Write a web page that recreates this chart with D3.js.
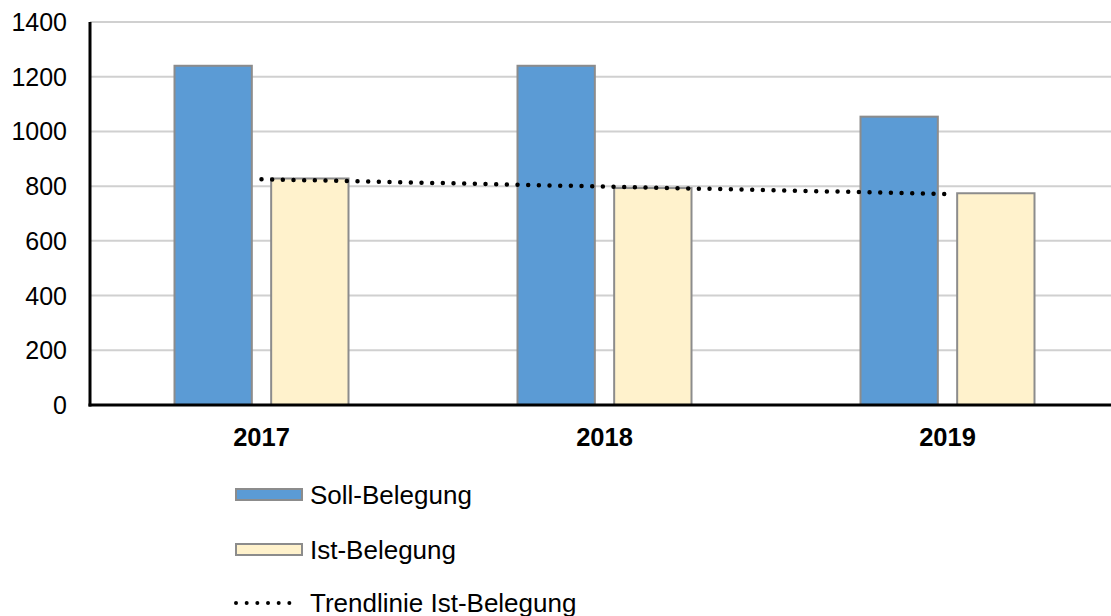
<!DOCTYPE html>
<html>
<head>
<meta charset="utf-8">
<script src="https://cdn.jsdelivr.net/npm/d3@7"></script>
<style>
  body { margin: 0; background: #fff; }
  svg { display: block; font-family: "Liberation Sans", Arial, sans-serif; }
</style>
</head>
<body>
<div id="chart"></div>
<script>
var years = ["2017", "2018", "2019"];
var seriesNames = ["Soll-Belegung", "Ist-Belegung"];
var soll = [1240, 1240, 1054];
var ist = [828, 793, 774];
var yTicks = [0, 200, 400, 600, 800, 1000, 1200, 1400];
var trendName = "Trendlinie Ist-Belegung";

var colors = ["#5B9BD5", "#FFF2CC"];
var width = 1111, height = 616;
var plotLeft = 90, plotTop = 22, plotRight = 1119, plotBottom = 405;

var svg = d3.select("#chart").append("svg")
  .attr("width", width)
  .attr("height", height);

var x0 = d3.scaleBand().domain(years).range([plotLeft, plotRight]).padding(0);
var x1 = d3.scaleBand().domain(seriesNames)
  .range([x0.bandwidth() / 2 - 87, x0.bandwidth() / 2 + 87])
  .paddingInner(0.2);
var y = d3.scaleLinear().domain([0, 1400]).range([plotBottom, plotTop]);

// gridlines
svg.append("g").selectAll("line")
  .data(yTicks.filter(d => d > 0))
  .enter().append("line")
  .attr("x1", plotLeft).attr("x2", width)
  .attr("y1", d => y(d)).attr("y2", d => y(d))
  .attr("stroke", "#d0d0d0")
  .attr("stroke-width", 2);

// y labels
svg.append("g").selectAll("text")
  .data(yTicks)
  .enter().append("text")
  .attr("x", 67)
  .attr("y", d => y(d) + 9)
  .attr("text-anchor", "end")
  .attr("font-size", "25px")
  .attr("fill", "#000")
  .text(d => d);

// bars
var rows = years.map((yr, i) => ({ year: yr, values: [soll[i], ist[i]] }));
var groups = svg.append("g").selectAll("g")
  .data(rows)
  .enter().append("g")
  .attr("transform", d => "translate(" + x0(d.year) + ",0)");

groups.selectAll("rect")
  .data(d => d.values.map((v, j) => ({ key: seriesNames[j], value: v, j: j })))
  .enter().append("rect")
  .attr("x", d => x1(d.key))
  .attr("y", d => y(d.value))
  .attr("width", x1.bandwidth())
  .attr("height", d => plotBottom - y(d.value))
  .attr("fill", d => colors[d.j])
  .attr("stroke", "#8c8c8c")
  .attr("stroke-width", 2);

// trend line (least squares over Ist)
var n = ist.length;
var mx = (n - 1) / 2;
var my = d3.mean(ist);
var slope = d3.sum(ist, (v, i) => (i - mx) * (v - my)) / d3.sum(ist, (v, i) => (i - mx) * (i - mx));
var trend = years.map((yr, i) => ({ x: x0(yr) + x0.bandwidth() / 2, v: my + slope * (i - mx) }));

svg.append("path")
  .datum(trend)
  .attr("d", d3.line().x(d => d.x).y(d => y(d.v)))
  .attr("fill", "none")
  .attr("stroke", "#000")
  .attr("stroke-width", 4.5)
  .attr("stroke-linecap", "round")
  .attr("stroke-dasharray", "0 10.67");

// axes
svg.append("line")
  .attr("x1", plotLeft).attr("x2", plotLeft)
  .attr("y1", plotTop).attr("y2", plotBottom + 1.5)
  .attr("stroke", "#000").attr("stroke-width", 3);
svg.append("line")
  .attr("x1", plotLeft - 1.5).attr("x2", width)
  .attr("y1", plotBottom).attr("y2", plotBottom)
  .attr("stroke", "#000").attr("stroke-width", 3);

// x labels
svg.append("g").selectAll("text")
  .data(years)
  .enter().append("text")
  .attr("x", d => x0(d) + x0.bandwidth() / 2)
  .attr("y", 446)
  .attr("text-anchor", "middle")
  .attr("font-size", "25.5px")
  .attr("font-weight", "bold")
  .attr("fill", "#000")
  .text(d => d);

// legend
var legend = svg.append("g");
seriesNames.forEach(function(name, i) {
  var cy = 494.5 + i * 55;
  legend.append("rect")
    .attr("x", 236).attr("y", cy - 5.5)
    .attr("width", 66).attr("height", 11)
    .attr("fill", colors[i])
    .attr("stroke", "#8c8c8c").attr("stroke-width", 2);
  legend.append("text")
    .attr("x", 310).attr("y", cy + 9)
    .attr("font-size", "26px")
    .attr("fill", "#000")
    .text(name);
});
legend.append("line")
  .attr("x1", 236).attr("x2", 300)
  .attr("y1", 603).attr("y2", 603)
  .attr("stroke", "#000").attr("stroke-width", 4)
  .attr("stroke-linecap", "round")
  .attr("stroke-dasharray", "0 10.67");
legend.append("text")
  .attr("x", 310).attr("y", 611.5)
  .attr("font-size", "26px")
  .attr("fill", "#000")
  .text(trendName);
</script>
</body>
</html>
